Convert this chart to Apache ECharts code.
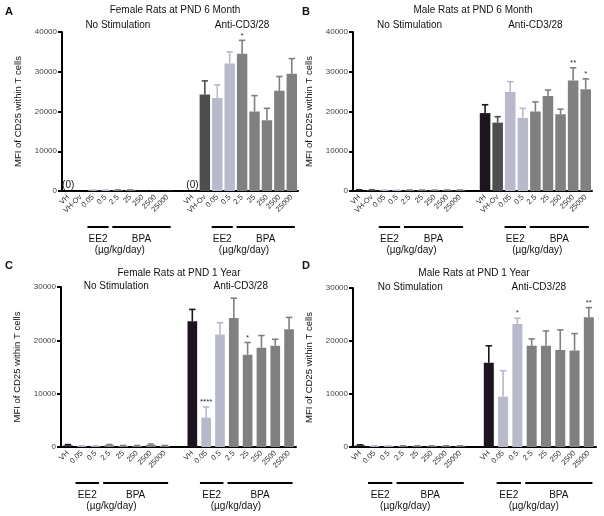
<!DOCTYPE html>
<html><head><meta charset="utf-8">
<script src="https://cdn.jsdelivr.net/npm/echarts@6/dist/echarts.min.js"></script>
<style>html,body{margin:0;padding:0;background:#fff}#c{width:604px;height:516px}</style>
</head><body><div id="c"></div>
<script>
// ---------- categories ----------
const CAT_6M = ['VH','VH-Ov','0.05','0.5','2.5','25','250','2500','25000'];
const CAT_1Y = ['VH','0.05','0.5','2.5','25','250','2500','25000'];
const Y_MAX_6M = 40000, Y_MAX_1Y = 30000, Y_STEP = 10000;

// colour keys per category: k=black, d=dark grey, l=light lavender, g=grey
const COL_6M = ['k','d','l','l','g','g','g','g','g'];
const COL_1Y = ['k','l','l','g','g','g','g','g'];
const PALETTE = {k:'#1d1420', d:'#4e4e50', l:'#b9b9cc', g:'#808082'};

// ---------- Panel A: Female, PND 6 Month ----------
const A_NOSTIM     = [0, 0, 150, 150, 200, 200, 60, 60, 60];
const A_NOSTIM_ERR = [0, 0, 80, 80, 80, 80, 0, 0, 0];
const A_STIM       = [0, 24300, 23400, 32100, 34500, 20000, 17800, 25200, 29500];
const A_STIM_ERR   = [0, 3400, 3300, 2900, 3400, 4000, 3000, 3600, 3800];
const A_STIM_SIG   = ['', '', '', '', '*', '', '', '', ''];
const A_ZERO_NOSTIM = [true, false, false, false, false, false, false, false, false];
const A_ZERO_STIM   = [true, false, false, false, false, false, false, false, false];

// ---------- Panel B: Male, PND 6 Month ----------
const B_NOSTIM     = [200, 200, 150, 150, 180, 180, 150, 180, 180];
const B_NOSTIM_ERR = [80, 80, 60, 60, 60, 60, 60, 60, 60];
const B_STIM       = [19600, 17200, 24900, 18400, 20000, 23900, 19300, 27800, 25600];
const B_STIM_ERR   = [2100, 1500, 2600, 2400, 2400, 1500, 1300, 3200, 2600];
const B_STIM_SIG   = ['', '', '', '', '', '', '', '**', '*'];

// ---------- Panel C: Female, PND 1 Year ----------
const C_NOSTIM     = [300, 150, 150, 350, 200, 200, 400, 200];
const C_NOSTIM_ERR = [150, 60, 60, 120, 80, 80, 150, 80];
const C_STIM       = [23600, 5500, 21100, 24200, 17300, 18600, 19000, 22100];
const C_STIM_ERR   = [2200, 2000, 2200, 3700, 2300, 2300, 1200, 2200];
const C_STIM_SIG   = ['', '****', '', '', '*', '', '', ''];

// ---------- Panel D: Male, PND 1 Year ----------
const D_NOSTIM     = [300, 150, 150, 150, 150, 150, 150, 150];
const D_NOSTIM_ERR = [100, 60, 60, 60, 60, 60, 60, 60];
const D_STIM       = [15900, 9500, 23200, 19100, 19100, 18300, 18200, 24500];
const D_STIM_ERR   = [3200, 4900, 1100, 1300, 2800, 3800, 3200, 1800];
const D_STIM_SIG   = ['', '', '*', '', '', '', '', '**'];

const FONT = "'Liberation Sans', Arial, sans-serif";

const panels = [
  {cats: CAT_6M, cols: COL_6M, ns: A_NOSTIM, nse: A_NOSTIM_ERR, st: A_STIM, ste: A_STIM_ERR, sig: A_STIM_SIG,
   z0: A_ZERO_NOSTIM, z1: A_ZERO_STIM, yMax: Y_MAX_6M, ee2: [2,3], bpa: [4,8],
   grid: {left: 62, top: 32, width: 236, height: 159}, headerDy: 7,
   title: 'Female Rats at PND 6 Month', tx: 175, ty: 10, letter: 'A', lx: 9, ly: 12, barW: '84%'},
  {cats: CAT_6M, cols: COL_6M, ns: B_NOSTIM, nse: B_NOSTIM_ERR, st: B_STIM, ste: B_STIM_ERR, sig: B_STIM_SIG,
   z0: null, z1: null, yMax: Y_MAX_6M, ee2: [2,3], bpa: [4,8],
   grid: {left: 353, top: 32, width: 239, height: 159}, headerDy: 7,
   title: 'Male Rats at PND 6 Month', tx: 473, ty: 10, letter: 'B', lx: 306, ly: 12, barW: '84%'},
  {cats: CAT_1Y, cols: COL_1Y, ns: C_NOSTIM, nse: C_NOSTIM_ERR, st: C_STIM, ste: C_STIM_ERR, sig: C_STIM_SIG,
   z0: null, z1: null, yMax: Y_MAX_1Y, ee2: [1,2], bpa: [3,7],
   grid: {left: 61, top: 287, width: 235, height: 160}, headerDy: 1,
   title: 'Female Rats at PND 1 Year', tx: 179, ty: 273, letter: 'C', lx: 9, ly: 266, barW: '70%'},
  {cats: CAT_1Y, cols: COL_1Y, ns: D_NOSTIM, nse: D_NOSTIM_ERR, st: D_STIM, ste: D_STIM_ERR, sig: D_STIM_SIG,
   z0: null, z1: null, yMax: Y_MAX_1Y, ee2: [1,2], bpa: [3,7],
   grid: {left: 353, top: 288, width: 243, height: 159}, headerDy: 1,
   title: 'Male Rats at PND 1 Year', tx: 474, ty: 273, letter: 'D', lx: 306, ly: 266, barW: '70%'}
];

const grids = [], xAxes = [], yAxes = [], series = [], graphics = [];

function txt(text, x, y, size, weight, align) {
  return {type: 'text', style: {text, x, y, fontSize: size, fontWeight: weight || 'normal', fontFamily: FONT,
    fill: '#111', align: align || 'center', verticalAlign: 'middle', textAlign: align || 'center', textVerticalAlign: 'middle'}};
}

panels.forEach((p, i) => {
  const n = p.cats.length;
  const cats = [...p.cats, '', ...p.cats];
  grids.push(p.grid);
  xAxes.push({
    type: 'category', gridIndex: i, data: cats, boundaryGap: true,
    axisLine: {lineStyle: {color: '#000', width: 2}},
    axisTick: {alignWithLabel: true, length: 4, lineStyle: {color: '#000', width: 2},
      interval: (idx, v) => v !== ''},
    axisLabel: {interval: 0, rotate: 45, fontSize: 7.5, color: '#333', margin: 5, fontFamily: FONT}
  });
  yAxes.push({
    type: 'value', gridIndex: i, min: 0, max: p.yMax, interval: Y_STEP,
    name: 'MFI of CD25 within T cells', nameLocation: 'middle', nameGap: 39,
    nameTextStyle: {fontSize: 9.5, color: '#111', fontFamily: FONT},
    splitLine: {show: false},
    axisLine: {show: true, lineStyle: {color: '#000', width: 2}},
    axisTick: {show: true, length: 4, lineStyle: {color: '#000', width: 2}},
    axisLabel: {fontSize: 8, color: '#444', margin: 5, fontFamily: FONT, formatter: v => String(v)}
  });

  const barData = [], errData = [], errSig = [];
  const zeroLbl = {show: true, position: 'top', formatter: '(0)', fontSize: 10, color: '#111', distance: 1, fontFamily: FONT};
  for (let j = 0; j < n; j++) {
    const c = PALETTE[p.cols[j]];
    const item = {value: p.ns[j], itemStyle: {color: c}};
    if (p.z0 && p.z0[j]) item.label = zeroLbl;
    barData.push(item);
    if (p.nse[j] > 0) { errData.push({value: [j, p.ns[j], p.nse[j]], itemStyle: {color: c}}); errSig.push(''); }
  }
  barData.push('-');
  for (let j = 0; j < n; j++) {
    const c = PALETTE[p.cols[j]];
    const item = {value: p.st[j], itemStyle: {color: c}};
    if (p.z1 && p.z1[j]) item.label = zeroLbl;
    barData.push(item);
    if (p.ste[j] > 0) { errData.push({value: [n + 1 + j, p.st[j], p.ste[j]], itemStyle: {color: c}}); errSig.push(p.sig[j]); }
  }

  series.push({type: 'bar', xAxisIndex: i, yAxisIndex: i, data: barData, barWidth: p.barW, silent: true});

  series.push({
    type: 'custom', xAxisIndex: i, yAxisIndex: i, data: errData, clip: false, silent: true, z: 5,
    encode: {x: 0, y: 1},
    renderItem: (params, api) => {
      const x = api.value(0), v = api.value(1), e = api.value(2);
      const p0 = api.coord([x, v]), p1 = api.coord([x, v + e]);
      const col = api.visual('color');
      const ch = [
        {type: 'line', shape: {x1: p0[0], y1: p0[1], x2: p1[0], y2: p1[1]}, style: {stroke: col, lineWidth: 1.6}},
        {type: 'line', shape: {x1: p1[0] - 3.2, y1: p1[1], x2: p1[0] + 3.2, y2: p1[1]}, style: {stroke: col, lineWidth: 1.6}}
      ];
      const s = errSig[params.dataIndex];
      if (s) ch.push({type: 'text', style: {text: s, x: p1[0], y: p1[1] - 5, fontSize: 8, fill: '#333', fontFamily: FONT,
        align: 'center', verticalAlign: 'middle', textAlign: 'center', textVerticalAlign: 'middle'}});
      return {type: 'group', children: ch};
    }
  });

  series.push({
    type: 'custom', xAxisIndex: i, yAxisIndex: i, data: [[0, 0]], clip: false, silent: true, z: 6,
    encode: {x: 0, y: 1},
    renderItem: (params, api) => {
      const band = api.size([1, 0])[0];
      const y0 = api.coord([0, 0])[1];
      const yTop = api.coord([0, p.yMax])[1];
      const ch = [];
      [0, n + 1].forEach((off, g) => {
        const xs = k => api.coord([off + k, 0])[0];
        const e1 = xs(p.ee2[0]) - 0.45 * band, e2 = xs(p.ee2[1]) + 0.25 * band;
        const b1 = xs(p.bpa[0]) - 0.45 * band, b2 = xs(p.bpa[1]) + 0.25 * band;
        const ly = y0 + 36;
        ch.push({type: 'line', shape: {x1: e1, y1: ly, x2: e2, y2: ly}, style: {stroke: '#000', lineWidth: 2}});
        ch.push({type: 'line', shape: {x1: b1, y1: ly, x2: b2, y2: ly}, style: {stroke: '#000', lineWidth: 2}});
        const ec = (e1 + e2) / 2, bc = (b1 + b2) / 2;
        ch.push(txt('EE2', ec, y0 + 48, 10));
        ch.push(txt('BPA', bc, y0 + 48, 10));
        ch.push(txt('(µg/kg/day)', (ec + bc) / 2, y0 + 59, 10));
        const hc = (xs(0) + xs(n - 1)) / 2;
        ch.push(txt(g === 0 ? 'No Stimulation' : 'Anti-CD3/28', hc, yTop - p.headerDy, 10));
      });
      return {type: 'group', children: ch};
    }
  });

  graphics.push(txt(p.title, p.tx, p.ty, 10));
  graphics.push(txt(p.letter, p.lx, p.ly, 11, 'bold'));
});

const chart = echarts.init(document.getElementById('c'), null, {renderer: 'canvas'});
chart.setOption({
  animation: false, backgroundColor: '#fff',
  grid: grids, xAxis: xAxes, yAxis: yAxes, series: series, graphic: graphics
});
</script></body></html>
